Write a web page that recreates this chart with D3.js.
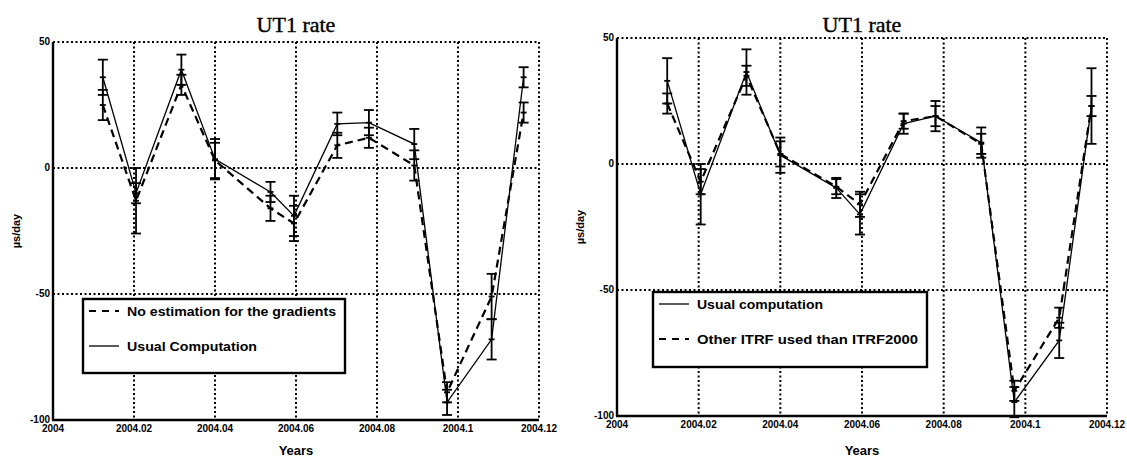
<!DOCTYPE html>
<html>
<head>
<meta charset="utf-8">
<style>
  body { margin: 0; background: #fff; }
  svg { display: block; }
  .grid line { stroke: #000; stroke-width: 2; stroke-dasharray: 2 2.5; }
  .tick-lab { font-family: "Liberation Sans", Arial, sans-serif; font-weight: bold; font-size: 10px; }
  .title { font-family: "Liberation Serif", "Times New Roman", serif; font-size: 22px; stroke: #000; stroke-width: 0.4; }
  .axis-lab { font-family: "Liberation Sans", Arial, sans-serif; font-weight: bold; font-size: 13px; }
  .legend text { font-family: "Liberation Sans", Arial, sans-serif; font-weight: bold; font-size: 12.5px; }
</style>
<script src="https://d3js.org/d3.v7.min.js"></script>
</head>
<body>
<svg width="1127" height="457"></svg>
<script>
  // epochs (years)
  const dates = [2004.0123, 2004.0205, 2004.0317, 2004.040, 2004.0537, 2004.0595,
                 2004.0702, 2004.078, 2004.0892, 2004.0973, 2004.1083, 2004.1162];

  // left panel
  const leftUsual      = [36, -10, 39, 3.5, -9.5, -19, 17.5, 18, 9.5, -93, -68, 36];
  const leftUsualErr   = [7, 4, 6, 8, 4, 8, 4.5, 5, 6, 5, 8, 4];
  const leftNoGrad     = [25, -13, 33, 3, -16, -22, 9, 12, 1, -89, -51, 22];
  const leftNoGradErr  = [6, 13, 4, 7, 5, 7, 5, 4, 6, 4, 9, 4];

  // right panel
  const rightUsual     = [33, -12, 36.5, 3.5, -9.5, -20, 16, 19, 8.5, -94.5, -70, 23];
  const rightUsualErr  = [9, 12, 9, 7, 4, 8, 4, 6, 6, 6, 7, 15];
  const rightOther     = [24, -7, 35, 4, -9, -16, 17, 19, 8, -90, -61, 23];
  const rightOtherErr  = [4, 5, 4, 5, 3, 5, 3, 4, 4, 4, 4, 4];

  const xTicks = [2004, 2004.02, 2004.04, 2004.06, 2004.08, 2004.1, 2004.12];
  const xTickLabels = ["2004", "2004.02", "2004.04", "2004.06", "2004.08", "2004.1", "2004.12"];
  const yTicks = [-100, -50, 0, 50];

  const svg = d3.select('svg');

  function drawPanel(cfg) {
    const x = d3.scaleLinear().domain([2004, 2004.12]).range([cfg.x0, cfg.x1]);
    const y = d3.scaleLinear().domain([-100, 50]).range([cfg.y1, cfg.y0]);
    const g = svg.append('g');

    // dotted grid
    const grid = g.append('g').classed('grid', true);
    grid.selectAll('.gx').data(xTicks.slice(1)).enter().append('line')
      .attr('x1', d => x(d)).attr('x2', d => x(d))
      .attr('y1', y(50)).attr('y2', y(-100));
    grid.selectAll('.gy').data(yTicks.slice(1)).enter().append('line')
      .attr('y1', d => y(d)).attr('y2', d => y(d))
      .attr('x1', x(2004)).attr('x2', x(2004.12));

    // solid axes
    g.append('line').attr('x1', x(2004)).attr('x2', x(2004))
      .attr('y1', y(50)).attr('y2', y(-100)).attr('stroke', '#000').attr('stroke-width', 2.4);
    g.append('line').attr('x1', x(2004) - 1).attr('x2', x(2004.12))
      .attr('y1', y(-100)).attr('y2', y(-100)).attr('stroke', '#000').attr('stroke-width', 2.4);

    // tick labels
    g.selectAll('.ylab').data(yTicks).enter().append('text')
      .classed('tick-lab', true)
      .attr('x', x(2004) - 3).attr('y', d => y(d) + 3)
      .attr('text-anchor', 'end')
      .text(d => d);
    g.selectAll('.xlab').data(xTicks).enter().append('text')
      .classed('tick-lab', true)
      .attr('x', d => x(d)).attr('y', y(-100) + 12)
      .attr('text-anchor', 'middle')
      .text((d, i) => xTickLabels[i]);

    g.append('text').classed('title', true)
      .attr('x', (cfg.x0 + cfg.x1) / 2).attr('y', 32)
      .attr('text-anchor', 'middle').text('UT1 rate');
    g.append('text').classed('axis-lab', true)
      .attr('x', (cfg.x0 + cfg.x1) / 2).attr('y', 455)
      .attr('text-anchor', 'middle').text('Years');
    g.append('text').classed('axis-lab', true)
      .attr('transform', `translate(${cfg.x0 - 33},${y(-25)}) rotate(-90)`)
      .attr('text-anchor', 'middle').style('font-size', '11px').text('µs/day');

    // series
    const line = d3.line().x(d => x(d.t)).y(d => y(d.v));
    cfg.series.forEach(s => {
      const pts = dates.map((t, i) => ({ t: t, v: s.values[i], e: s.errs[i] }));
      g.append('path').datum(pts)
        .attr('d', line).attr('fill', 'none').attr('stroke', '#000')
        .attr('stroke-width', s.dashed ? 2.2 : 1.3)
        .attr('stroke-dasharray', s.dashed ? '8 5' : null);
      const eb = g.append('g').attr('stroke', '#000').attr('stroke-width', 1.8);
      eb.selectAll('.bar').data(pts).enter().append('line')
        .attr('x1', d => x(d.t)).attr('x2', d => x(d.t))
        .attr('y1', d => y(d.v + d.e)).attr('y2', d => y(d.v - d.e));
      eb.selectAll('.capTop').data(pts).enter().append('line')
        .attr('x1', d => x(d.t) - 5).attr('x2', d => x(d.t) + 5)
        .attr('y1', d => y(d.v + d.e)).attr('y2', d => y(d.v + d.e));
      eb.selectAll('.capBot').data(pts).enter().append('line')
        .attr('x1', d => x(d.t) - 5).attr('x2', d => x(d.t) + 5)
        .attr('y1', d => y(d.v - d.e)).attr('y2', d => y(d.v - d.e));
      eb.selectAll('.mark').data(pts).enter().append('line')
        .attr('x1', d => x(d.t) - 3).attr('x2', d => x(d.t) + 3)
        .attr('y1', d => y(d.v)).attr('y2', d => y(d.v));
    });

    // legend
    const lg = g.append('g').classed('legend', true);
    lg.append('rect')
      .attr('x', cfg.legend.x).attr('y', cfg.legend.y)
      .attr('width', cfg.legend.w).attr('height', cfg.legend.h)
      .attr('fill', '#fff').attr('stroke', '#000').attr('stroke-width', 2.4);
    cfg.series.forEach((s, i) => {
      const ly = cfg.legend.y + 12 + i * 35;
      lg.append('line')
        .attr('x1', cfg.legend.x + 6).attr('x2', cfg.legend.x + 36)
        .attr('y1', ly).attr('y2', ly)
        .attr('stroke', '#000').attr('stroke-width', s.dashed ? 2 : 1.3)
        .attr('stroke-dasharray', s.dashed ? '7 6' : null);
      lg.append('text')
        .attr('x', cfg.legend.x + cfg.legend.tx).attr('y', ly + 4.5)
        .attr('textLength', s.tw).attr('lengthAdjust', 'spacingAndGlyphs')
        .text(s.name);
    });
  }

  drawPanel({
    x0: 53, x1: 539, y0: 42, y1: 420,
    legend: { x: 83, y: 299, w: 262, h: 74, tx: 44 },
    series: [
      { name: 'No estimation for the gradients', values: leftNoGrad, errs: leftNoGradErr, dashed: true, tw: 209 },
      { name: 'Usual Computation', values: leftUsual, errs: leftUsualErr, dashed: false, tw: 130 }
    ]
  });

  drawPanel({
    x0: 617, x1: 1107, y0: 38, y1: 416,
    legend: { x: 653, y: 292, w: 274, h: 75, tx: 44 },
    series: [
      { name: 'Usual computation', values: rightUsual, errs: rightUsualErr, dashed: false, tw: 126 },
      { name: 'Other ITRF used than ITRF2000', values: rightOther, errs: rightOtherErr, dashed: true, tw: 221 }
    ]
  });
</script>
</body>
</html>
